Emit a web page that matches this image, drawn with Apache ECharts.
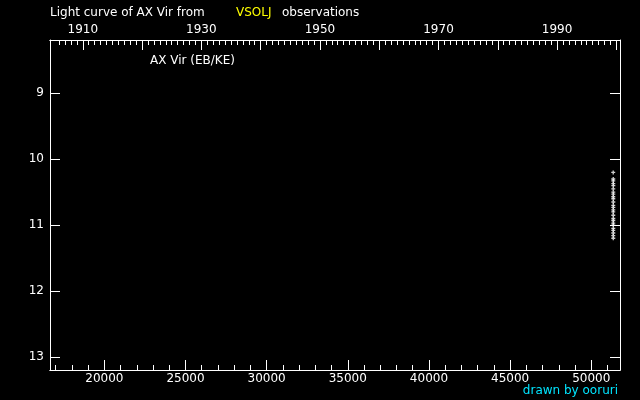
<!DOCTYPE html>
<html><head><meta charset="utf-8">
<script src="https://cdn.jsdelivr.net/npm/echarts@6/dist/echarts.min.js"></script>
<style>html,body{margin:0;padding:0;background:#000}#c{width:640px;height:400px}</style>
</head><body><div id="c"></div>
<script>
// Data: JD - 2400000 and visual magnitude
const obsJD  = [51352,51355,51356,51357,51358,51355,51356,51357,51354,51356,51358,51355,51357,51356,51354,51355,51357,51356,51355,51356,51357,51355,51356,51354,51356];
const obsMag = [10.2,10.3,10.33,10.37,10.4,10.45,10.5,10.53,10.57,10.6,10.65,10.7,10.73,10.77,10.8,10.85,10.9,10.93,10.97,11.0,11.05,11.08,11.12,11.16,11.2];
const magTicks = [9,10,11,12,13];
const jdTicks = [20000,25000,30000,35000,40000,45000,50000];
const yearLabels = [1910,1930,1950,1970,1990];

const X_MIN = 16652, X_MAX = 51770, Y_MIN = 8.19, Y_MAX = 13.2;
const yearToJD = y => Date.UTC(y,0,1)/864e5 + 40587.5;
const range = (a,b,s) => { const r=[]; for(let v=a; v<=b; v+=s) r.push(v); return r; };
const minorJD = range(17000,51000,1000);
const yearMajor = range(1910,2000,10).map(yearToJD);
const yearMinor = range(1906,2000,1).map(yearToJD);
const FONT = 'DejaVu Sans';
const FS = 12;
const W = '#ffffff';

const chart = echarts.init(document.getElementById('c'), null, {renderer:'canvas'});
const baseX = (extra) => Object.assign({
  type:'value', min:X_MIN, max:X_MAX, splitLine:{show:false},
  axisLine:{show:true, lineStyle:{color:W, width:1}},
}, extra);
chart.setOption({
  backgroundColor:'#000',
  animation:false,
  grid:{left:50, right:20, top:40, bottom:30, containLabel:false},
  xAxis:[
    baseX({position:'bottom',
      axisTick:{show:true, inside:true, length:10, lineStyle:{color:W}, customValues:jdTicks},
      axisLabel:{show:true, color:W, fontFamily:FONT, fontSize:FS, margin:3, customValues:jdTicks,
        formatter: v => String(v)}}),
    baseX({position:'bottom',
      axisTick:{show:true, inside:true, length:5, lineStyle:{color:W}, customValues:minorJD},
      axisLabel:{show:false}}),
    baseX({position:'top',
      axisTick:{show:true, inside:true, length:10, lineStyle:{color:W}, customValues:yearMajor},
      axisLabel:{show:true, color:W, fontFamily:FONT, fontSize:FS, margin:4,
        customValues:yearLabels.map(yearToJD),
        formatter: v => String(Math.round(1900 + (v - 15020.5)/365.2425))}}),
    baseX({position:'top',
      axisTick:{show:true, inside:true, length:5, lineStyle:{color:W}, customValues:yearMinor},
      axisLabel:{show:false}})
  ],
  yAxis:[
    {type:'value', inverse:true, min:Y_MIN, max:Y_MAX, position:'left', splitLine:{show:false},
      axisLine:{show:true, lineStyle:{color:W}},
      axisTick:{show:true, inside:true, length:10, lineStyle:{color:W}, customValues:magTicks},
      axisLabel:{show:true, color:W, fontFamily:FONT, fontSize:FS, margin:6, customValues:magTicks}},
    {type:'value', inverse:true, min:Y_MIN, max:Y_MAX, position:'right', splitLine:{show:false},
      axisLine:{show:true, lineStyle:{color:W}},
      axisTick:{show:true, inside:true, length:10, lineStyle:{color:W}, customValues:magTicks},
      axisLabel:{show:false}}
  ],
  graphic:[
    {type:'text', left:50, top:7, style:{text:'Light curve of AX Vir from', fill:W, font:'12px "DejaVu Sans"'}},
    {type:'text', left:236, top:7, style:{text:'VSOLJ', fill:'#ffff00', font:'12px "DejaVu Sans"'}},
    {type:'text', left:282, top:7, style:{text:'observations', fill:W, font:'12px "DejaVu Sans"'}},
    {type:'text', left:150, top:55, style:{text:'AX Vir (EB/KE)', fill:W, font:'12px "DejaVu Sans"'}},
    {type:'text', right:22, top:385, style:{text:'drawn by ooruri', fill:'#00e5ff', font:'12px "DejaVu Sans"'}}
  ],
  series:[{
    type:'scatter', xAxisIndex:0, yAxisIndex:0,
    symbol:'path://M1,0H2V1H3V2H2V3H1V2H0V1H1Z', symbolSize:4,
    itemStyle:{color:W},
    data: obsJD.map((x,i)=>[x, obsMag[i]])
  }]
});
</script></body></html>
